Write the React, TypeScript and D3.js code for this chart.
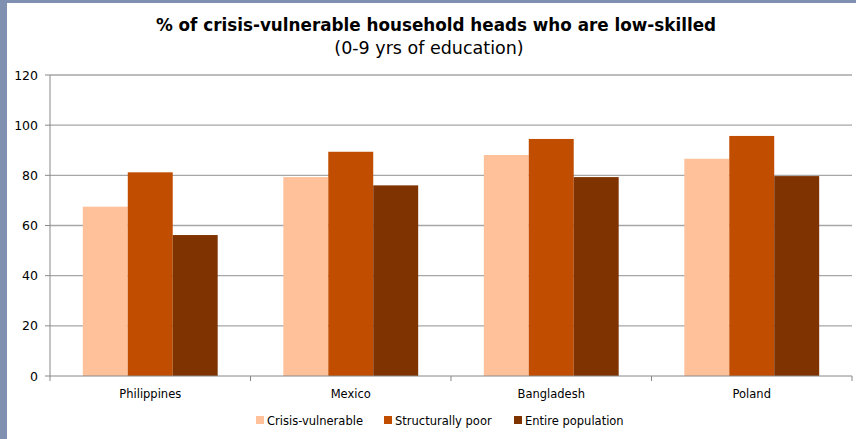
import React from "react";
import * as d3 from "d3";

const categories = ["Philippines", "Mexico", "Bangladesh", "Poland"];
const seriesNames = ["Crisis-vulnerable", "Structurally poor", "Entire population"];
const crisisVulnerable = [67.5, 79.3, 88.1, 86.6];
const structurallyPoor = [81.2, 89.4, 94.5, 95.7];
const entirePopulation = [56.2, 76.0, 79.3, 79.7];
const yTicks = [0, 20, 40, 60, 80, 100, 120];
const seriesColors = ["#ffc19a", "#c04d00", "#7f3300"];

const W = 856;
const H = 439;
const FONT = "'DejaVu Sans', Verdana, sans-serif";

export default function App() {
  const left = 50;
  const right = 852;
  const top = 75;
  const bottom = 376;

  const series = [crisisVulnerable, structurallyPoor, entirePopulation];

  const x0 = d3.scaleBand<string>().domain(categories).range([left, right]).paddingInner(0).paddingOuter(0);
  const x1 = d3
    .scaleBand<number>()
    .domain([0, 1, 2])
    .range([0, x0.bandwidth()])
    .paddingInner(0)
    .paddingOuter(0.73);
  const y = d3.scaleLinear().domain([0, 120]).range([bottom, top]);

  const legendX = [256, 384, 514];

  return (
    <svg width={W} height={H} style={{ position: "absolute", left: 0, top: 0, display: "block" }}>
      <rect x={0} y={0} width={W} height={H} fill="#ffffff" />
      <rect x={0} y={0} width={W} height={3} fill="#8090b1" />
      <rect x={0} y={0} width={7} height={H} fill="#8090b1" />

      <text x={436} y={31} textAnchor="middle" fontFamily={FONT} fontWeight="bold" fontSize={16.8} fill="#000">
        % of crisis-vulnerable household heads who are low-skilled
      </text>
      <text x={429} y={54} textAnchor="middle" fontFamily={FONT} fontSize={17.5} fill="#000">
        (0-9 yrs of education)
      </text>

      {yTicks.map((t) => (
        <g key={t}>
          {t > 0 && <line x1={left} x2={right} y1={y(t)} y2={y(t)} stroke="#a6a6a6" strokeWidth={1.3} />}
          <line x1={left - 5} x2={left} y1={y(t)} y2={y(t)} stroke="#888" strokeWidth={1} />
          <text x={38} y={y(t) + 4.5} textAnchor="end" fontFamily={FONT} fontSize={12.5} fill="#000">
            {t}
          </text>
        </g>
      ))}

      {categories.map((c, i) => (
        <g key={c} transform={`translate(${x0(c)},0)`}>
          {series.map((s, j) => (
            <rect
              key={j}
              x={x1(j)}
              y={y(s[i])}
              width={x1.bandwidth()}
              height={bottom - y(s[i])}
              fill={seriesColors[j]}
            />
          ))}
        </g>
      ))}

      <line x1={left} x2={left} y1={top} y2={bottom} stroke="#888" strokeWidth={1} />
      <line x1={left} x2={right} y1={bottom} y2={bottom} stroke="#888" strokeWidth={1} />
      {categories.map((c) => (
        <line key={c + "t"} x1={x0(c)!} x2={x0(c)!} y1={bottom} y2={bottom + 5} stroke="#888" />
      ))}
      <line x1={right} x2={right} y1={bottom} y2={bottom + 5} stroke="#888" />

      {categories.map((c) => (
        <text
          key={c + "l"}
          x={x0(c)! + x0.bandwidth() / 2}
          y={398}
          textAnchor="middle"
          fontFamily={FONT}
          fontSize={11.5}
          fill="#000"
        >
          {c}
        </text>
      ))}

      {seriesNames.map((n, j) => (
        <g key={n}>
          <rect x={legendX[j]} y={416} width={8} height={8} fill={seriesColors[j]} />
          <text x={legendX[j] + 11} y={425} fontFamily={FONT} fontSize={11.5} fill="#000">
            {n}
          </text>
        </g>
      ))}
    </svg>
  );
}
